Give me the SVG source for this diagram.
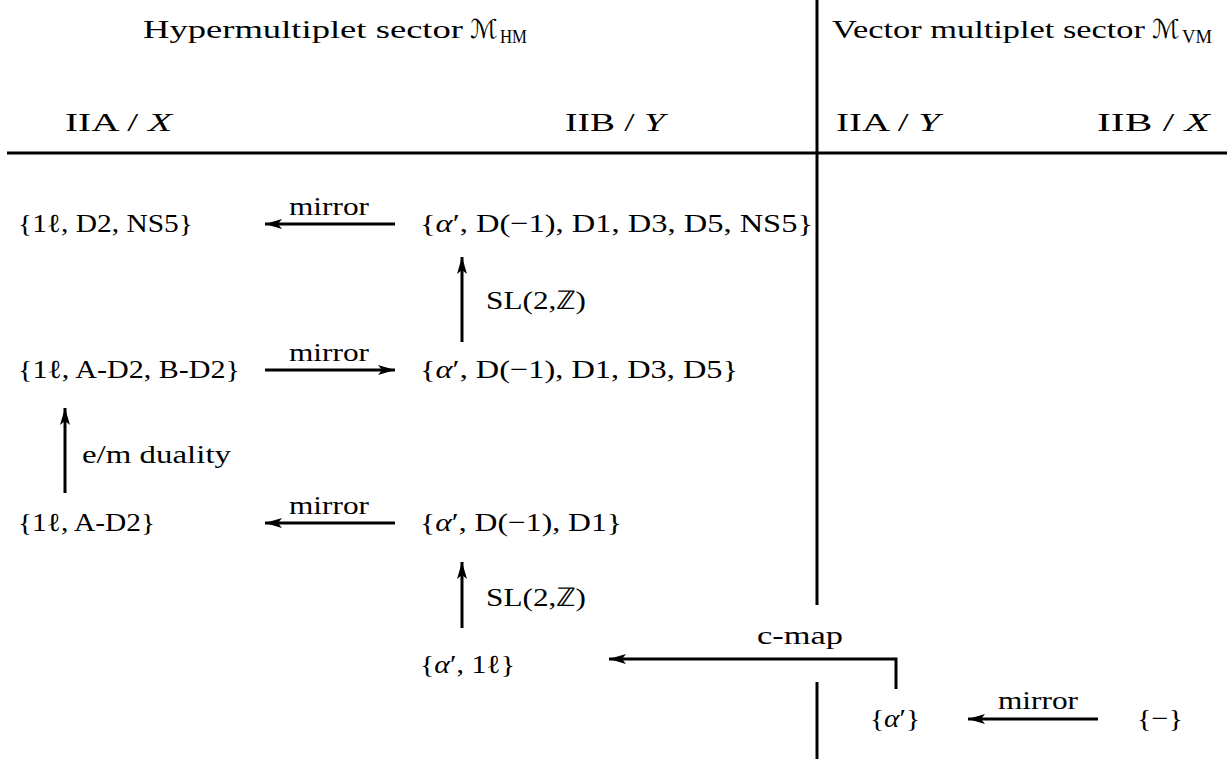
<svg xmlns="http://www.w3.org/2000/svg" width="1227" height="759" viewBox="0 0 1227 759">
<style>
text{font-family:"Liberation Serif","Times New Roman",serif;font-size:26px;fill:#000}
.it{font-style:italic}
.sub{font-size:19px}
.scr{font-family:"DejaVu Serif","DejaVu Sans",serif;font-size:26px;font-style:italic}
.rule{stroke:#000;stroke-width:3;fill:none}
.arr{stroke:#000;stroke-width:3;fill:none;marker-end:url(#ah)}
</style>
<defs>
<marker id="ah" markerUnits="userSpaceOnUse" markerWidth="18" markerHeight="12" viewBox="0 0 18 12" refX="17" refY="6" orient="auto">
<path d="M0,1 L17,6 L0,11 L4,6 Z" fill="#000"/>
</marker>
</defs>

<g id="table-rules">
<line class="rule" x1="7" y1="153" x2="1227" y2="153"/>
<line class="rule" x1="817" y1="0" x2="817" y2="605"/>
<line class="rule" x1="817" y1="682" x2="817" y2="759"/>
</g>

<g id="headers">
<text x="143" y="38" textLength="320" lengthAdjust="spacingAndGlyphs">Hypermultiplet sector</text>
<text class="scr" x="470" y="38">ℳ</text>
<text class="sub" x="500" y="43" textLength="27" lengthAdjust="spacingAndGlyphs">HM</text>
<text x="832" y="38" textLength="313" lengthAdjust="spacingAndGlyphs">Vector multiplet sector</text>
<text class="scr" x="1152" y="38">ℳ</text>
<text class="sub" x="1182" y="43" textLength="30" lengthAdjust="spacingAndGlyphs">VM</text>
<text x="65" y="131" textLength="107" lengthAdjust="spacingAndGlyphs">IIA / <tspan class="it">X</tspan></text>
<text x="565" y="131" textLength="100" lengthAdjust="spacingAndGlyphs">IIB / <tspan class="it">Y</tspan></text>
<text x="836" y="131" textLength="104" lengthAdjust="spacingAndGlyphs">IIA / <tspan class="it">Y</tspan></text>
<text x="1097" y="131" textLength="113" lengthAdjust="spacingAndGlyphs">IIB / <tspan class="it">X</tspan></text>
</g>

<g id="node-iia-x-1">
<text x="18" y="232" textLength="175" lengthAdjust="spacingAndGlyphs">{1ℓ, D2, NS5}</text>
</g>
<g id="node-iib-y-1">
<text x="420" y="232" textLength="393" lengthAdjust="spacingAndGlyphs">{<tspan class="it">α</tspan>′, D(−1), D1, D3, D5, NS5}</text>
</g>
<g id="node-iia-x-2">
<text x="18" y="378" textLength="222" lengthAdjust="spacingAndGlyphs">{1ℓ, A-D2, B-D2}</text>
</g>
<g id="node-iib-y-2">
<text x="420" y="378" textLength="318" lengthAdjust="spacingAndGlyphs">{<tspan class="it">α</tspan>′, D(−1), D1, D3, D5}</text>
</g>
<g id="node-iia-x-3">
<text x="18" y="531" textLength="137" lengthAdjust="spacingAndGlyphs">{1ℓ, A-D2}</text>
</g>
<g id="node-iib-y-3">
<text x="420" y="531" textLength="202" lengthAdjust="spacingAndGlyphs">{<tspan class="it">α</tspan>′, D(−1), D1}</text>
</g>
<g id="node-iib-y-4">
<text x="420" y="673" textLength="95" lengthAdjust="spacingAndGlyphs">{<tspan class="it">α</tspan>′, 1ℓ}</text>
</g>
<g id="node-iia-y-5">
<text x="870" y="727" textLength="50" lengthAdjust="spacingAndGlyphs">{<tspan class="it">α</tspan>′}</text>
</g>
<g id="node-iib-x-5">
<text x="1137" y="727" textLength="46" lengthAdjust="spacingAndGlyphs">{−}</text>
</g>

<g id="connectors">
<line class="arr" x1="395" y1="224" x2="265" y2="224"/>
<line class="arr" x1="265" y1="370" x2="395" y2="370"/>
<line class="arr" x1="395" y1="523" x2="265" y2="523"/>
<line class="arr" x1="462" y1="342" x2="462" y2="257"/>
<line class="arr" x1="462" y1="628" x2="462" y2="562"/>
<line class="arr" x1="65" y1="493" x2="65" y2="408"/>
<polyline class="arr" points="896,689 896,659 609,659"/>
<line class="arr" x1="1098" y1="719" x2="968" y2="719"/>
<text x="289" y="215" textLength="80" lengthAdjust="spacingAndGlyphs">mirror</text>
<text x="289" y="361" textLength="80" lengthAdjust="spacingAndGlyphs">mirror</text>
<text x="289" y="514" textLength="80" lengthAdjust="spacingAndGlyphs">mirror</text>
<text x="998" y="709" textLength="80" lengthAdjust="spacingAndGlyphs">mirror</text>
<text x="486" y="309" textLength="100" lengthAdjust="spacingAndGlyphs">SL(2,ℤ)</text>
<text x="486" y="606" textLength="100" lengthAdjust="spacingAndGlyphs">SL(2,ℤ)</text>
<text x="82" y="463" textLength="149" lengthAdjust="spacingAndGlyphs">e/m duality</text>
<text x="757" y="644" textLength="86" lengthAdjust="spacingAndGlyphs">c-map</text>
</g>
</svg>
